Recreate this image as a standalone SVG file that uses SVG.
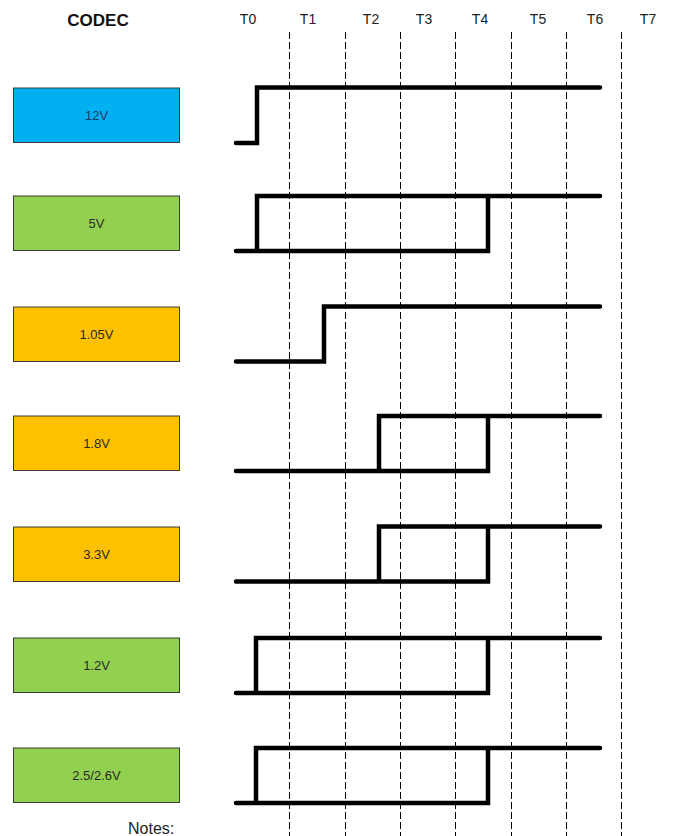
<svg xmlns="http://www.w3.org/2000/svg" width="682" height="836" viewBox="0 0 682 836">
<style>
.bg{fill:#ffffff}
.box{stroke:#3a3a3a;stroke-width:1}
.blue{fill:#00b0f0}
.green{fill:#92d050}
.orange{fill:#ffc000}
.lbl{font-family:"Liberation Sans",Arial,sans-serif;font-size:13px;fill:#2a2a2a;text-anchor:middle;dominant-baseline:central}
.tlbl{font-family:"Liberation Sans",Arial,sans-serif;font-size:14px;fill:#222;text-anchor:middle}
.title{font-family:"Liberation Sans",Arial,sans-serif;font-size:17px;font-weight:bold;fill:#111;text-anchor:middle}
.grid{stroke:#000;stroke-width:1;stroke-dasharray:7 3;fill:none}
.wave{stroke:#000;stroke-width:4.5;fill:none;stroke-linecap:round;stroke-linejoin:miter}
.notes{font-family:"Liberation Sans",Arial,sans-serif;font-size:16px;fill:#222}
</style>
<rect class="bg" x="0" y="0" width="682" height="836"/>
<text class="title" x="98" y="26">CODEC</text>
<g id="time-labels">
<text class="tlbl" x="248" y="24">T0</text>
<text class="tlbl" x="308" y="24">T1</text>
<text class="tlbl" x="371" y="24">T2</text>
<text class="tlbl" x="424" y="24">T3</text>
<text class="tlbl" x="480" y="24">T4</text>
<text class="tlbl" x="538" y="24">T5</text>
<text class="tlbl" x="595" y="24">T6</text>
<text class="tlbl" x="648" y="24">T7</text>
</g>
<g id="grid">
<line class="grid" x1="289.5" y1="32" x2="289.5" y2="836"/>
<line class="grid" x1="345.5" y1="32" x2="345.5" y2="836"/>
<line class="grid" x1="400.5" y1="32" x2="400.5" y2="836"/>
<line class="grid" x1="455.5" y1="32" x2="455.5" y2="836"/>
<line class="grid" x1="511.5" y1="32" x2="511.5" y2="836"/>
<line class="grid" x1="566.5" y1="32" x2="566.5" y2="836"/>
<line class="grid" x1="621.5" y1="32" x2="621.5" y2="836"/>
</g>
<g id="node-12v">
<rect class="box blue" x="13.5" y="88" width="166" height="54.5"/>
<text class="lbl" x="96.5" y="115" style="fill:#1f3a66">12V</text>
</g>
<g id="node-5v">
<rect class="box green" x="13.5" y="196" width="166" height="54.5"/>
<text class="lbl" x="96.5" y="223">5V</text>
</g>
<g id="node-1v05">
<rect class="box orange" x="13.5" y="307" width="166" height="54.5"/>
<text class="lbl" x="96.5" y="334">1.05V</text>
</g>
<g id="node-1v8">
<rect class="box orange" x="13.5" y="416" width="166" height="54.5"/>
<text class="lbl" x="96.5" y="443">1.8V</text>
</g>
<g id="node-3v3">
<rect class="box orange" x="13.5" y="527" width="166" height="54.5"/>
<text class="lbl" x="96.5" y="554">3.3V</text>
</g>
<g id="node-1v2">
<rect class="box green" x="13.5" y="638" width="166" height="54.5"/>
<text class="lbl" x="96.5" y="665">1.2V</text>
</g>
<g id="node-2v5">
<rect class="box green" x="13.5" y="748" width="166" height="54.5"/>
<text class="lbl" x="96.5" y="775">2.5/2.6V</text>
</g>
<g id="connectors">
<path class="wave" d="M236 143 H257 V87.5 H600"/>
<path class="wave" d="M236 251 H488 V196 M600 196 H257 V251"/>
<path class="wave" d="M236 361.5 H324 V306.5 H600"/>
<path class="wave" d="M236 471 H488 V416 M600 416 H379 V471"/>
<path class="wave" d="M236 581.5 H488 V526.5 M600 526.5 H379 V581.5"/>
<path class="wave" d="M236 693 H488 V638 M600 638 H256 V693"/>
<path class="wave" d="M236 803 H488 V748 M600 748 H256 V803"/>
</g>
<text class="notes" x="128" y="834">Notes:</text>
</svg>
